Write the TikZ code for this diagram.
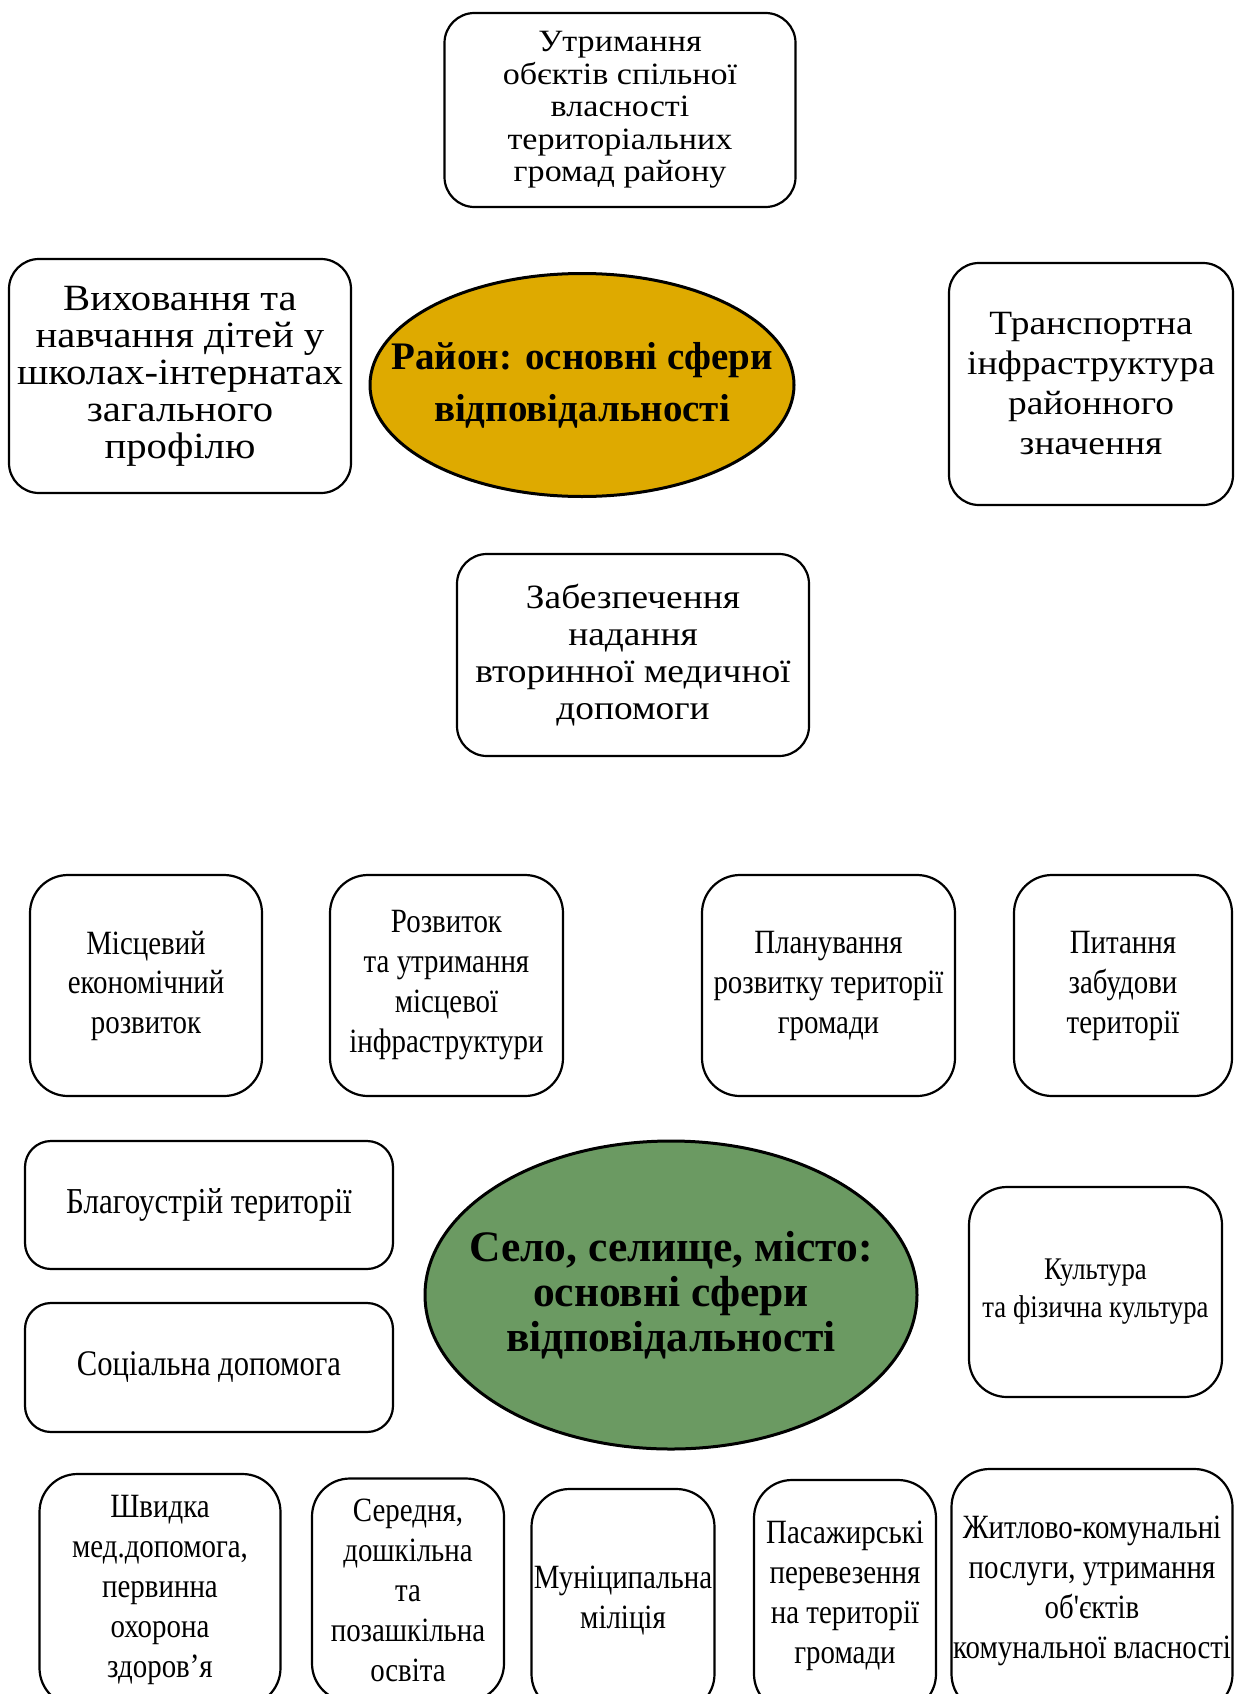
\documentclass[tikz,border=0pt]{standalone}
\usepackage{fontspec}
\setmainfont{Liberation Serif}
\newfontfamily\upfont[FakeStretch=1.1]{Liberation Serif}
\newfontfamily\lowfont[FakeStretch=0.85]{Liberation Serif}
\usetikzlibrary{shapes.geometric}
\definecolor{gold}{HTML}{DEAA00}
\definecolor{sage}{HTML}{6B9A62}
\tikzset{
  upbox/.style ={draw=black,line width=2.2pt,rounded corners=30pt,align=center,
                 inner sep=0pt,font=\upfont\fontsize{34}{37}\selectfont},
  lowbox/.style={draw=black,line width=2.2pt,rounded corners=38pt,align=center,
                 inner sep=0pt,font=\lowfont\fontsize{34}{40}\selectfont},
  hub/.style   ={ellipse,draw=black,line width=3pt,inner xsep=-100pt,inner ysep=0pt,
                 align=center,font=\bfseries\fontsize{39}{52}\selectfont},
}

\begin{document}
\begin{tikzpicture}[x=1pt,y=-1pt]
  \useasboundingbox (0,0) rectangle (1235,1694);
  \clip (0,0) rectangle (1235,1694);
  % district level
  \node[hub,fill=gold,minimum width=424pt,minimum height=223pt] (rayon) at (582,385)
        {Район: основні сфери\\відповідальності};
  \node[upbox,minimum width=351pt,minimum height=194pt,font=\upfont\fontsize{31}{32.5}\selectfont]
        (spilna) at (620,110) {Утримання\\обєктів спільної\\власності\\територіальних\\громад району};
  \node[upbox,minimum width=342pt,minimum height=234pt,font=\upfont\fontsize{37}{37}\selectfont]
        (internat) at (180,376) {Виховання та\\навчання дітей у\\школах-інтернатах\\загального\\профілю};
  \node[upbox,minimum width=284pt,minimum height=242pt,font=\upfont\fontsize{34}{40}\selectfont]
        (transp) at (1091,384) {Транспортна\\інфраструктура\\районного\\значення};
  \node[upbox,minimum width=352pt,minimum height=202pt] (medyc) at (633,655)
        {Забезпечення\\надання\\вторинної медичної\\допомоги};
  % community level
  \node[hub,fill=sage,minimum width=492pt,minimum height=308pt,font=\bfseries\fontsize{43.5}{45}\selectfont]
        (hromada) at (671,1295) {Село, селище, місто:\\основні сфери\\відповідальності};
  \node[lowbox,minimum width=232pt,minimum height=221pt,font=\lowfont\fontsize{34}{39.5}\selectfont]
        (ekon) at (146,985.5) {Місцевий\\економічний\\розвиток};
  \node[lowbox,minimum width=233pt,minimum height=221pt] (infra) at (446.5,985.5)
        {Розвиток\\та утримання\\місцевої\\інфраструктури};
  \node[lowbox,minimum width=253pt,minimum height=221pt] (plan) at (828.5,985.5)
        {Планування\\розвитку території\\громади};
  \node[lowbox,minimum width=218pt,minimum height=221pt] (zabud) at (1123,985.5)
        {Питання\\забудови\\території};
  \node[lowbox,minimum width=368pt,minimum height=128pt,rounded corners=26pt,
        font=\lowfont\fontsize{36.5}{42}\selectfont] (blago) at (209,1205) {Благоустрій території};
  \node[lowbox,minimum width=368pt,minimum height=129pt,rounded corners=26pt,
        font=\lowfont\fontsize{36}{42}\selectfont] (social) at (209,1367.5) {Соціальна допомога};
  \node[lowbox,minimum width=253pt,minimum height=210pt,font=\lowfont\fontsize{31.5}{38}\selectfont]
        (kult) at (1095.5,1292) {Культура\\та фізична культура};
  % bottom row runs past the lower edge
  \node[lowbox,minimum width=241pt,minimum height=232pt] (shvydka) at (160,1590)
        {Швидка\\мед.допомога,\\первинна\\охорона\\здоров’я};
  \node[lowbox,minimum width=192pt,minimum height=223pt] (osvita) at (408,1590)
        {Середня,\\дошкільна\\та\\позашкільна\\освіта};
  \node[lowbox,minimum width=183pt,minimum height=223pt] (militsia) at (623,1600.5)
        {Муніципальна\\міліція};
  \node[lowbox,minimum width=182pt,minimum height=232pt] (pasazh) at (845,1596)
        {Пасажирські\\перевезення\\на території\\громади};
  \node[lowbox,minimum width=281pt,minimum height=243pt] (zhytlo) at (1092,1590.5)
        {Житлово-комунальні\\послуги, утримання\\об'єктів\\комунальної власності};
\end{tikzpicture}
\end{document}
